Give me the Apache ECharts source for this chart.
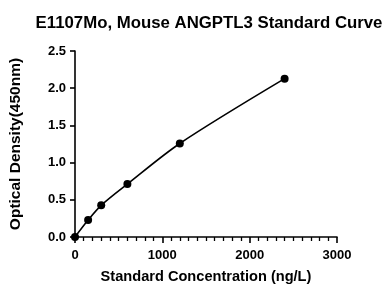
<!DOCTYPE html>
<html><head><meta charset="utf-8">
<script src="https://cdn.jsdelivr.net/npm/echarts@6/dist/echarts.min.js"></script>
<style>html,body{margin:0;padding:0;background:#fff}#c{width:383px;height:289px}</style>
</head><body><div id="c"></div>
<script>
var concentrations = [0, 150, 300, 600, 1200, 2400];
var densities = [0.0, 0.228, 0.426, 0.712, 1.257, 2.128];
var xTicks = [0, 1000, 2000, 3000];
var yTicks = [0.0, 0.5, 1.0, 1.5, 2.0, 2.5];
var titleText = 'E1107Mo, Mouse ANGPTL3 Standard Curve';
var xName = 'Standard Concentration (ng/L)';
var yName = 'Optical Density(450nm)';

var font = 'Liberation Sans, Arial, sans-serif';
var chart = echarts.init(document.getElementById('c'));
chart.setOption({
  animation: false,
  title: {text: titleText, left: 204, top: 10, textAlign: 'center',
    textStyle: {fontFamily: font, fontWeight: 'bold', fontSize: 16.8, color: '#000'}},
  grid: {left: 74, right: 46, top: 51, bottom: 48},
  xAxis: {type: 'value', min: xTicks[0], max: xTicks[xTicks.length-1], interval: 1000,
    name: xName, nameLocation: 'middle', nameGap: 32,
    nameTextStyle: {fontFamily: font, fontWeight: 'bold', fontSize: 14.6, color: '#000'},
    axisLine: {lineStyle: {color: '#000', width: 1.6}},
    axisTick: {length: 6, lineStyle: {color: '#000', width: 1.6}},
    minorTick: {show: true, splitNumber: 10, length: 4, lineStyle: {color: '#000', width: 1.3}},
    splitLine: {show: false},
    axisLabel: {fontFamily: font, fontWeight: 'bold', fontSize: 13, color: '#000', margin: 12,
      formatter: function(v){return String(v);}}},
  yAxis: {type: 'value', min: yTicks[0], max: yTicks[yTicks.length-1], interval: 0.5,
    name: yName, nameLocation: 'middle', nameGap: 51, nameRotate: 90,
    nameTextStyle: {fontFamily: font, fontWeight: 'bold', fontSize: 15.5, color: '#000'},
    axisLine: {show: true, lineStyle: {color: '#000', width: 1.6}},
    axisTick: {show: true, length: 5, lineStyle: {color: '#000', width: 1.6}},
    splitLine: {show: false},
    axisLabel: {fontFamily: font, fontWeight: 'bold', fontSize: 13, color: '#000', margin: 9,
      formatter: function(v){return v.toFixed(1);}}},
  series: [{type: 'line', data: concentrations.map(function(c,i){return [c, densities[i]];}),
    smooth: 0.3, symbol: 'circle', symbolSize: 8, clip: false,
    itemStyle: {color: '#000'}, lineStyle: {color: '#000', width: 1.6}}]
});
</script></body></html>
